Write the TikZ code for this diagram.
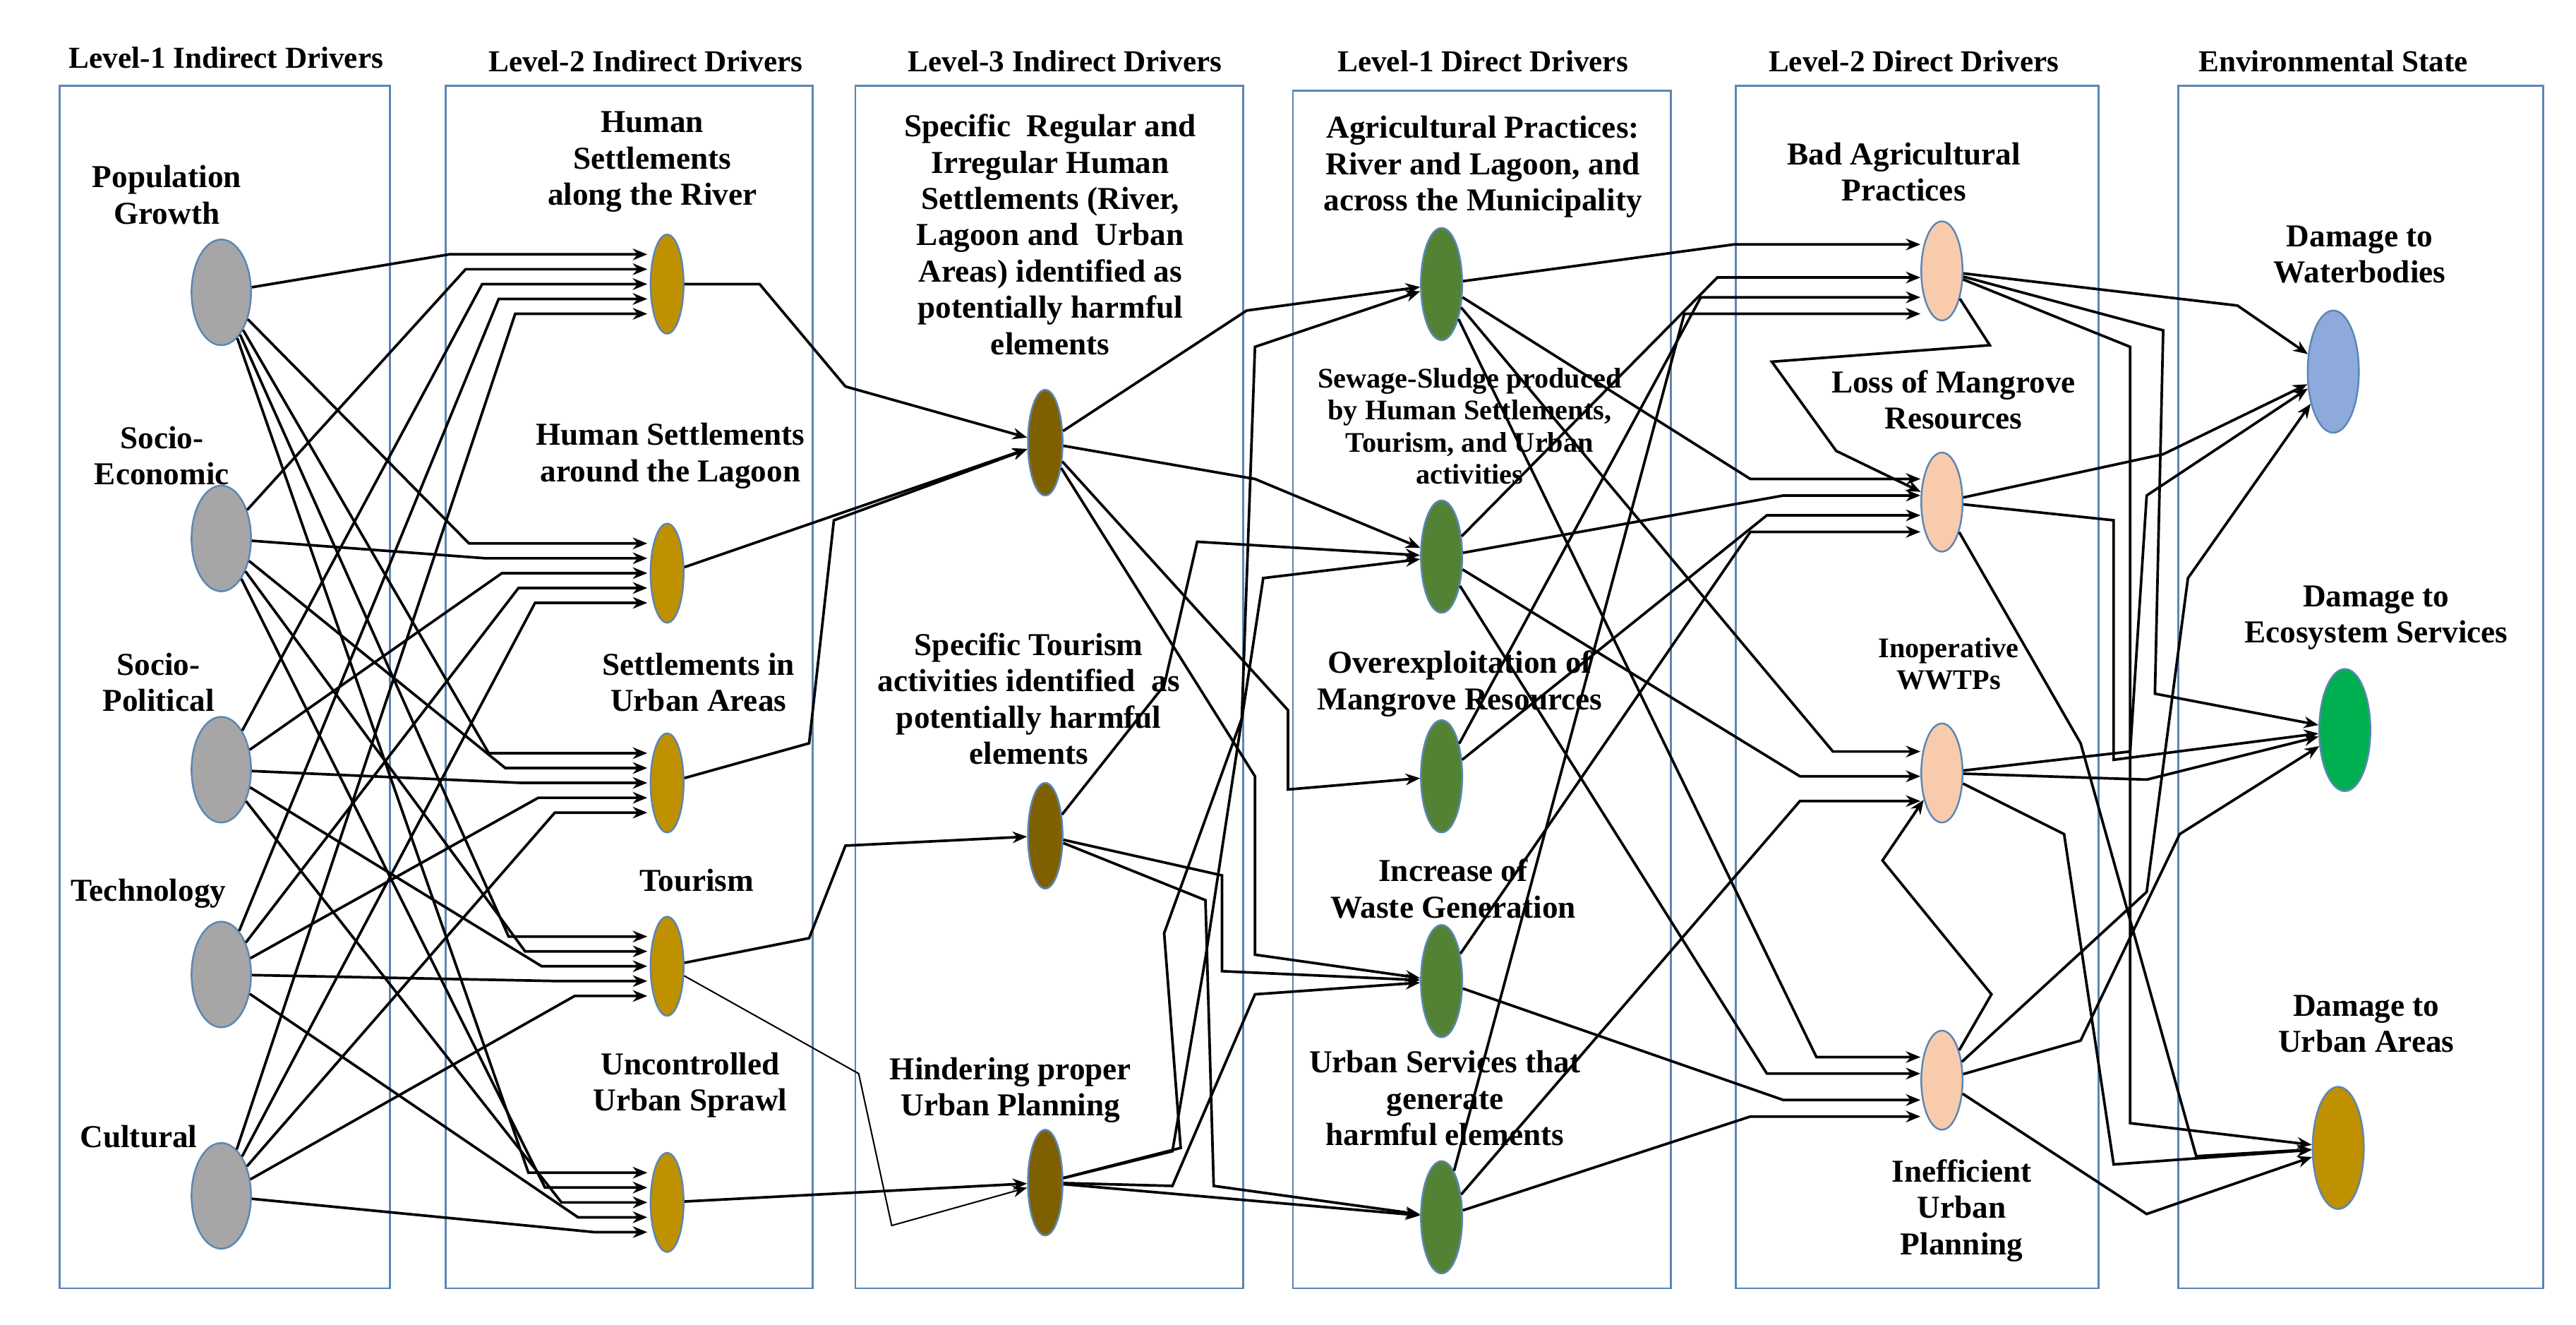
\documentclass[tikz,border=0pt]{standalone}
\usepackage{fontspec}
\setmainfont{Liberation Serif}
\usetikzlibrary{arrows.meta,shapes.geometric}
\definecolor{bx}{RGB}{90,135,180}
\definecolor{gold}{RGB}{191,144,0}
\definecolor{brn}{RGB}{127,96,0}
\definecolor{grn}{RGB}{84,130,53}
\definecolor{pch}{RGB}{248,203,173}
\definecolor{wbc}{RGB}{142,169,219}
\definecolor{esc}{RGB}{0,176,80}
\begin{document}
\begin{tikzpicture}[x=0.02cm,y=-0.02cm,
 box/.style={draw=bx,line width=0.7pt},
 hd/.style={font=\fontsize{10.5}{12}\selectfont\bfseries},
 lb/.style={font=\fontsize{11}{12.5}\selectfont\bfseries,align=center},
 lbs/.style={font=\fontsize{9.8}{11}\selectfont\bfseries,align=center},
 nd/.style={ellipse,draw=bx,line width=0.6pt,minimum width=#1},
 e/.style={draw,line width=0.9pt,-{Stealth[length=5pt,width=4pt]}}]
\useasboundingbox (0,0) rectangle (1560,802);
% boxes
\draw[box] (36,52) rectangle (236,780);
\draw[box] (270,52) rectangle (492,780);
\draw[box] (518,52) rectangle (753,780);
\draw[box] (783,55) rectangle (1012,780);
\draw[box] (1051,52) rectangle (1271,780);
\draw[box] (1319,52) rectangle (1540,780);
\node[hd] (h1) at (137,35) {Level-1 Indirect Drivers};
\node[hd] (h2) at (391,37) {Level-2 Indirect Drivers};
\node[hd] (h3) at (645,37) {Level-3 Indirect Drivers};
\node[hd] (h4) at (898,37) {Level-1 Direct Drivers};
\node[hd] (h5) at (1159,37) {Level-2 Direct Drivers};
\node[hd] (h6) at (1413,37) {Environmental State};
% column 1
\foreach \n/\y in {pg/177,se/326,sp/466,te/590,cu/724}
 \node[nd=0.72cm,minimum height=1.28cm,fill=gray!70] (\n) at (134,\y) {};
\node[lb] (lpg) at (101,118) {Population\\Growth};
\node[lb] (lse) at (98,276) {Socio-\\Economic};
\node[lb] (lsp) at (96,413) {Socio-\\Political};
\node[lb] (lte) at (90,541) {Technology};
\node[lb] (lcu) at (84,688) {Cultural};
% column 2
\foreach \n/\y in {hsr/172,hsl/347,sua/474,tou/585,uus/728}
 \node[nd=0.4cm,minimum height=1.2cm,fill=gold] (\n) at (404,\y) {};
\node[lb] (lhsr) at (395,98) {Human\\Settlements\\along the River};
\node[lb] (lhsl) at (406,276) {Human Settlements\\around the Lagoon};
\node[lb] (lsua) at (423,413) {Settlements in\\Urban Areas};
\node[lb] (ltou) at (422,533) {Tourism};
\node[lb] (luus) at (418,657) {Uncontrolled\\Urban Sprawl};
% column 3
\foreach \n/\y in {s1/268,s2/506,s3/716}
 \node[nd=0.42cm,minimum height=1.28cm,fill=brn] (\n) at (633,\y) {};
\node[lb] (ls1) at (636,142) {Specific\ \ Regular and\\Irregular Human\\Settlements (River,\\Lagoon and\ \ Urban\\Areas) identified as\\potentially harmful\\elements};
\node[lb] (ls2) at (623,423) {Specific Tourism\\activities identified\ \ as\\potentially harmful\\elements};
\node[lb] (ls3) at (612,660) {Hindering proper\\Urban Planning};
% column 4
\foreach \n/\y in {a/172,b/337,c/470,d/594,f/737}
 \node[nd=0.5cm,minimum height=1.36cm,fill=grn] (\n) at (873,\y) {};
\node[lb] (la) at (898,101) {Agricultural Practices:\\River and Lagoon, and\\across the Municipality};
\node[lbs] (lb) at (890,258) {Sewage-Sludge produced\\by Human Settlements,\\Tourism, and Urban\\activities};
\node[lb] (lc) at (884,414) {Overexploitation of\\Mangrove Resources};
\node[lb] (ld) at (880,538) {Increase of\\Waste Generation};
\node[lb] (lf) at (875,665) {Urban Services that\\generate\\harmful elements};
% column 5
\foreach \n/\y in {bap/164,lmr/304,iw/468,iup/654}
 \node[nd=0.5cm,minimum height=1.2cm,fill=pch] (\n) at (1176,\y) {};
\node[lb] (lbap) at (1153,104) {Bad Agricultural\\Practices};
\node[lb] (llmr) at (1183,242) {Loss of Mangrove\\Resources};
\node[lbs] (liw) at (1180,402) {Inoperative\\WWTPs};
\node[lb] (liup) at (1188,733) {Inefficient\\Urban\\Planning};
% column 6
\node[nd=0.62cm,minimum height=1.48cm,fill=wbc] (wb) at (1413,225) {};
\node[nd=0.62cm,minimum height=1.48cm,fill=esc] (es) at (1420,442) {};
\node[nd=0.62cm,minimum height=1.48cm,fill=gold] (ua) at (1416,695) {};
\node[lb] (lwb) at (1429,154) {Damage to\\Waterbodies};
\node[lb] (les) at (1439,374) {Damage to\\Ecosystem Services};
\node[lb] (lua) at (1433,620) {Damage to\\Urban Areas};
% edges col1 -> col2 (approach targets nearly horizontally)
\foreach \s [count=\i] in {pg,se,sp,te,cu}
 \foreach \t/\ty [count=\j] in {hsr/172,hsl/347,sua/474,tou/585,uus/728}
  \draw[e] (\s) -- ({250+10*\i+12*\j},{\ty+(\i-3)*9}) -- ({392},{\ty+(\i-3)*9});
% col2 -> col3
\draw[e] (hsr) -- (460,172) -- (512,234) -- (s1);
\draw[e] (hsl) -- (s1);
\draw[e] (sua) -- (490,450) -- (505,315) -- (s1);
\draw[e] (tou) -- (490,568) -- (512,512) -- (s2);
\draw[e,line width=0.5pt] (tou) -- (520,650) -- (540,742) -- (s3);
\draw[e] (uus) -- (s3);
% col3 -> col4
\draw[e] (s1) -- (755,188) -- (a);
\draw[e] (s1) -- (760,290) -- (b);
\draw[e] (s1) -- (780,430) -- (780,478) -- (c);
\draw[e] (s1) -- (760,470) -- (760,578) -- (d);
\draw[e] (s2) -- (705,415) -- (725,328) -- (b);
\draw[e] (s2) -- (740,530) -- (740,588) -- (d);
\draw[e] (s2) -- (730,545) -- (735,718) -- (f);
\draw[e] (s3) -- (715,695) -- (705,565) -- (752,435) -- (760,210) -- (a);
\draw[e] (s3) -- (710,697) -- (730,580) -- (765,350) -- (b);
\draw[e] (s3) -- (710,718) -- (760,602) -- (d);
\draw[e] (s3) -- (f);
% col4 -> col5
\foreach \s/\t/\mx/\ty in {a/bap/1050/148,a/lmr/1060/290,a/iw/1110/455,a/iup/1100/640,b/bap/1040/168,b/lmr/1080/300,b/iw/1090/470,b/iup/1070/650,c/bap/1030/180,c/lmr/1070/312,d/lmr/1060/322,d/iup/1080/666,f/bap/1020/190,f/iw/1090/485,f/iup/1060/676}
 \draw[e] (\s) -- (\mx,\ty) -- (1163,\ty);
% col5 -> col6
\draw[e] (bap) -- (1205,209) -- (1073,219) -- (1112,273) -- (lmr);
\draw[e] (iup) -- (1206,602) -- (1140,521) -- (iw);
\draw[e] (bap) -- (1355,185) -- (wb);
\draw[e] (bap) -- (1310,200) -- (1305,420) -- (es);
\draw[e] (bap) -- (1290,210) -- (1290,680) -- (ua);
\draw[e] (lmr) -- (1310,275) -- (wb);
\draw[e] (lmr) -- (1280,315) -- (1280,460) -- (es);
\draw[e] (lmr) -- (1260,450) -- (1330,700) -- (ua);
\draw[e] (iw) -- (1290,455) -- (1300,300) -- (wb);
\draw[e] (iw) -- (1300,472) -- (es);
\draw[e] (iw) -- (1250,505) -- (1280,705) -- (ua);
\draw[e] (iup) -- (1300,540) -- (1325,350) -- (wb);
\draw[e] (iup) -- (1260,630) -- (1320,505) -- (es);
\draw[e] (iup) -- (1300,735) -- (ua);
\end{tikzpicture}
\end{document}
